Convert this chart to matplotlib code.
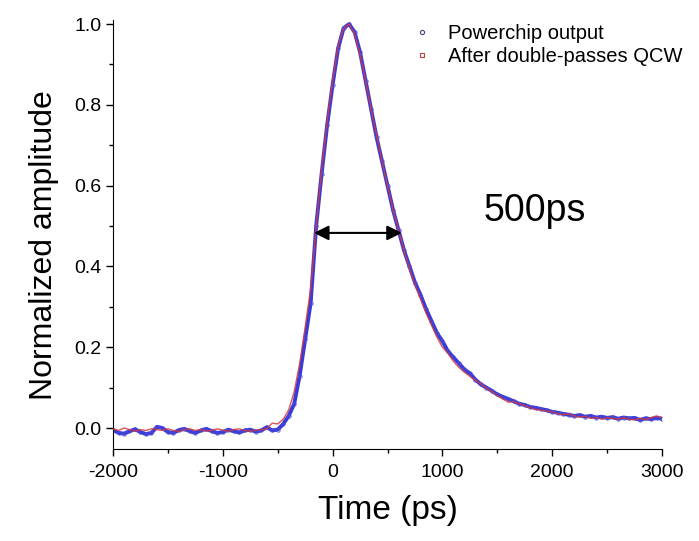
import numpy as np
import matplotlib
matplotlib.use('Agg')
import matplotlib.pyplot as plt
from matplotlib.lines import Line2D

plt.rcParams['font.family'] = ['Liberation Sans', 'DejaVu Sans']
plt.rcParams['axes.unicode_minus'] = False

# time axis (ps), 50 ps steps from -2000 to 3000
time_ps = np.arange(-2000, 3001, 50)

# Powerchip output (blue)
powerchip = [
    -0.005, -0.012, -0.014, -0.008, -0.003, -0.010, -0.015, -0.012, 0.003, 0.000,
    -0.010, -0.012, -0.005, -0.002, -0.008, -0.012, -0.006, -0.002, -0.008, -0.012,
    -0.010, -0.004, -0.008, -0.011, -0.006, -0.004, -0.009, -0.006, 0.002, -0.006,
    -0.004, 0.010, 0.030, 0.060, 0.130, 0.220, 0.310, 0.500, 0.630, 0.750,
    0.850, 0.940, 0.990, 1.000, 0.980, 0.930, 0.860, 0.790, 0.720, 0.660,
    0.600, 0.540, 0.490, 0.440, 0.400, 0.360, 0.330, 0.295, 0.265, 0.235,
    0.215, 0.190, 0.175, 0.160, 0.145, 0.135, 0.120, 0.108, 0.100, 0.092,
    0.083, 0.077, 0.072, 0.066, 0.060, 0.057, 0.052, 0.050, 0.047, 0.044,
    0.040, 0.038, 0.035, 0.033, 0.030, 0.032, 0.028, 0.030, 0.026, 0.028,
    0.025, 0.027, 0.023, 0.026, 0.024, 0.025, 0.020, 0.024, 0.022, 0.025,
    0.023,
]

# After double-passes QCW (red)
after_qcw = [
    -0.002, -0.006, 0.000, -0.004, -0.008, -0.004, -0.006, -0.002, -0.004, -0.006,
    -0.002, -0.006, -0.009, -0.004, -0.002, -0.006, -0.004, -0.008, -0.006, -0.002,
    -0.005, -0.008, -0.004, -0.002, -0.006, -0.008, -0.005, -0.004, -0.002, 0.012,
    0.010, 0.022, 0.045, 0.090, 0.160, 0.250, 0.345, 0.500, 0.640, 0.760,
    0.860, 0.945, 0.990, 1.000, 0.975, 0.925, 0.860, 0.790, 0.725, 0.660,
    0.600, 0.540, 0.490, 0.440, 0.395, 0.355, 0.320, 0.285, 0.255, 0.225,
    0.200, 0.185, 0.165, 0.150, 0.138, 0.128, 0.118, 0.110, 0.098, 0.090,
    0.080, 0.072, 0.064, 0.065, 0.060, 0.055, 0.050, 0.046, 0.044, 0.042,
    0.040, 0.035, 0.033, 0.035, 0.030, 0.027, 0.029, 0.024, 0.026, 0.022,
    0.025, 0.024, 0.022, 0.025, 0.022, 0.020, 0.024, 0.021, 0.026, 0.030,
    0.026,
]

labels = ['Powerchip output', 'After double-passes QCW']
fwhm_left, fwhm_right, fwhm_level = -170, 630, 0.483

fig = plt.figure(figsize=(6.99, 5.41), dpi=100)
ax = fig.add_axes([0.1617, 0.170, 0.7854, 0.793])

blue = '#2424d4'
red = '#d63a3a'
ax.plot(time_ps, powerchip, color=blue, lw=2.8, marker='o', ms=2.5,
        mfc='none', mec='#5050d8', mew=0.6, alpha=0.9, zorder=2)
ax.plot(time_ps, after_qcw, color=red, lw=1.0, alpha=0.85, zorder=3)

# FWHM arrow
ax.annotate('', xy=(fwhm_left, fwhm_level), xytext=(fwhm_right, fwhm_level),
            arrowprops=dict(arrowstyle='<|-|>', color='black', lw=1.5,
                            mutation_scale=22, shrinkA=0, shrinkB=0), zorder=4)
ax.text(1370, 0.512, '500ps', fontsize=27, ha='left', va='baseline')

ax.set_xlim(-2000, 3000)
ax.set_ylim(-0.052, 1.01)
ax.set_xticks([-2000, -1000, 0, 1000, 2000, 3000])
ax.set_xticks(np.arange(-1500, 3000, 1000), minor=True)
ax.set_yticks([0.0, 0.2, 0.4, 0.6, 0.8, 1.0])
ax.set_yticks([0.1, 0.3, 0.5, 0.7, 0.9], minor=True)
ax.yaxis.set_major_formatter(matplotlib.ticker.FormatStrFormatter('%.1f'))

for s in ['top', 'right']:
    ax.spines[s].set_visible(False)
ax.tick_params(which='major', length=5, width=1, labelsize=14, direction='out')
ax.tick_params(which='minor', length=3, width=1, direction='out')
ax.tick_params(axis='x', pad=6)

ax.set_xlabel('Time (ps)', fontsize=24, labelpad=10)
ax.set_ylabel('Normalized amplitude', fontsize=23, labelpad=11)
ax.yaxis.label.set_y(0.476)

handles = [
    Line2D([], [], ls='none', marker='o', ms=3, mfc='none', mec='#404080', mew=0.8),
    Line2D([], [], ls='none', marker='s', ms=3, mfc='none', mec='#c04040', mew=0.8),
]
ax.legend(handles, labels, loc='upper left', bbox_to_anchor=(0.530, 1.01),
          frameon=False, fontsize=14.5, handlelength=1.0, handletextpad=0.8,
          labelspacing=0.2, borderaxespad=0.0)

fig.savefig('out.png', dpi=100)
